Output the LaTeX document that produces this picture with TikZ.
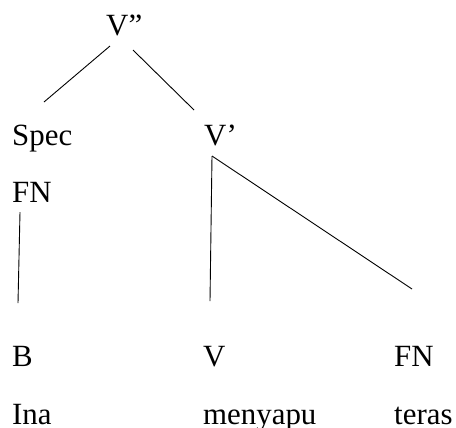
\documentclass[tikz,border=0pt]{standalone}
\usepackage{fontspec}
\setmainfont{Liberation Serif}
\begin{document}
\begin{tikzpicture}[x=1bp,y=1bp,yscale=-1,
  word/.style={anchor=base west,inner sep=0pt,font=\fontsize{31}{31}\selectfont},
  branch/.style={line width=0.9bp}]
\useasboundingbox (0,0) rectangle (456,427);

% Text Node
\node [word] (vbar2) at (106,35) {V”};
% Text Node
\node [word] (spec) at (12,145) {Spec};
% Text Node
\node [word] (vbar1) at (204,145) {V’};
% Text Node
\node [word] (fnspec) at (12,202) {FN};
% Text Node
\node [word] (bcat) at (12,366) {B};
% Text Node
\node [word] (vcat) at (203,366) {V};
% Text Node
\node [word] (fncat) at (394,366) {FN};
% Text Node
\node [word] (ina) at (12,424) {Ina};
% Text Node
\node [word] (menyapu) at (203,424) {menyapu};
% Text Node
\node [word] (teras) at (394,424) {teras};

% Branch ends
\coordinate (vbar2L) at (110,46);
\coordinate (specT) at (44,102);
\coordinate (vbar2R) at (133,50);
\coordinate (vbar1T) at (194,110);
\coordinate (fnspecB) at (20,212);
\coordinate (bcatT) at (18,303);
\coordinate (vbar1B) at (212,156);
\coordinate (vcatT) at (210,301);
\coordinate (fncatT) at (412,289);

%Straight Lines
\draw [branch] (vbar2L) -- (specT) ;
%Straight Lines
\draw [branch] (vbar2R) -- (vbar1T) ;
%Straight Lines
\draw [branch] (fnspecB) -- (bcatT) ;
%Straight Lines
\draw [branch] (vbar1B) -- (vcatT) ;
%Straight Lines
\draw [branch] (vbar1B) -- (fncatT) ;

\end{tikzpicture}
\end{document}
